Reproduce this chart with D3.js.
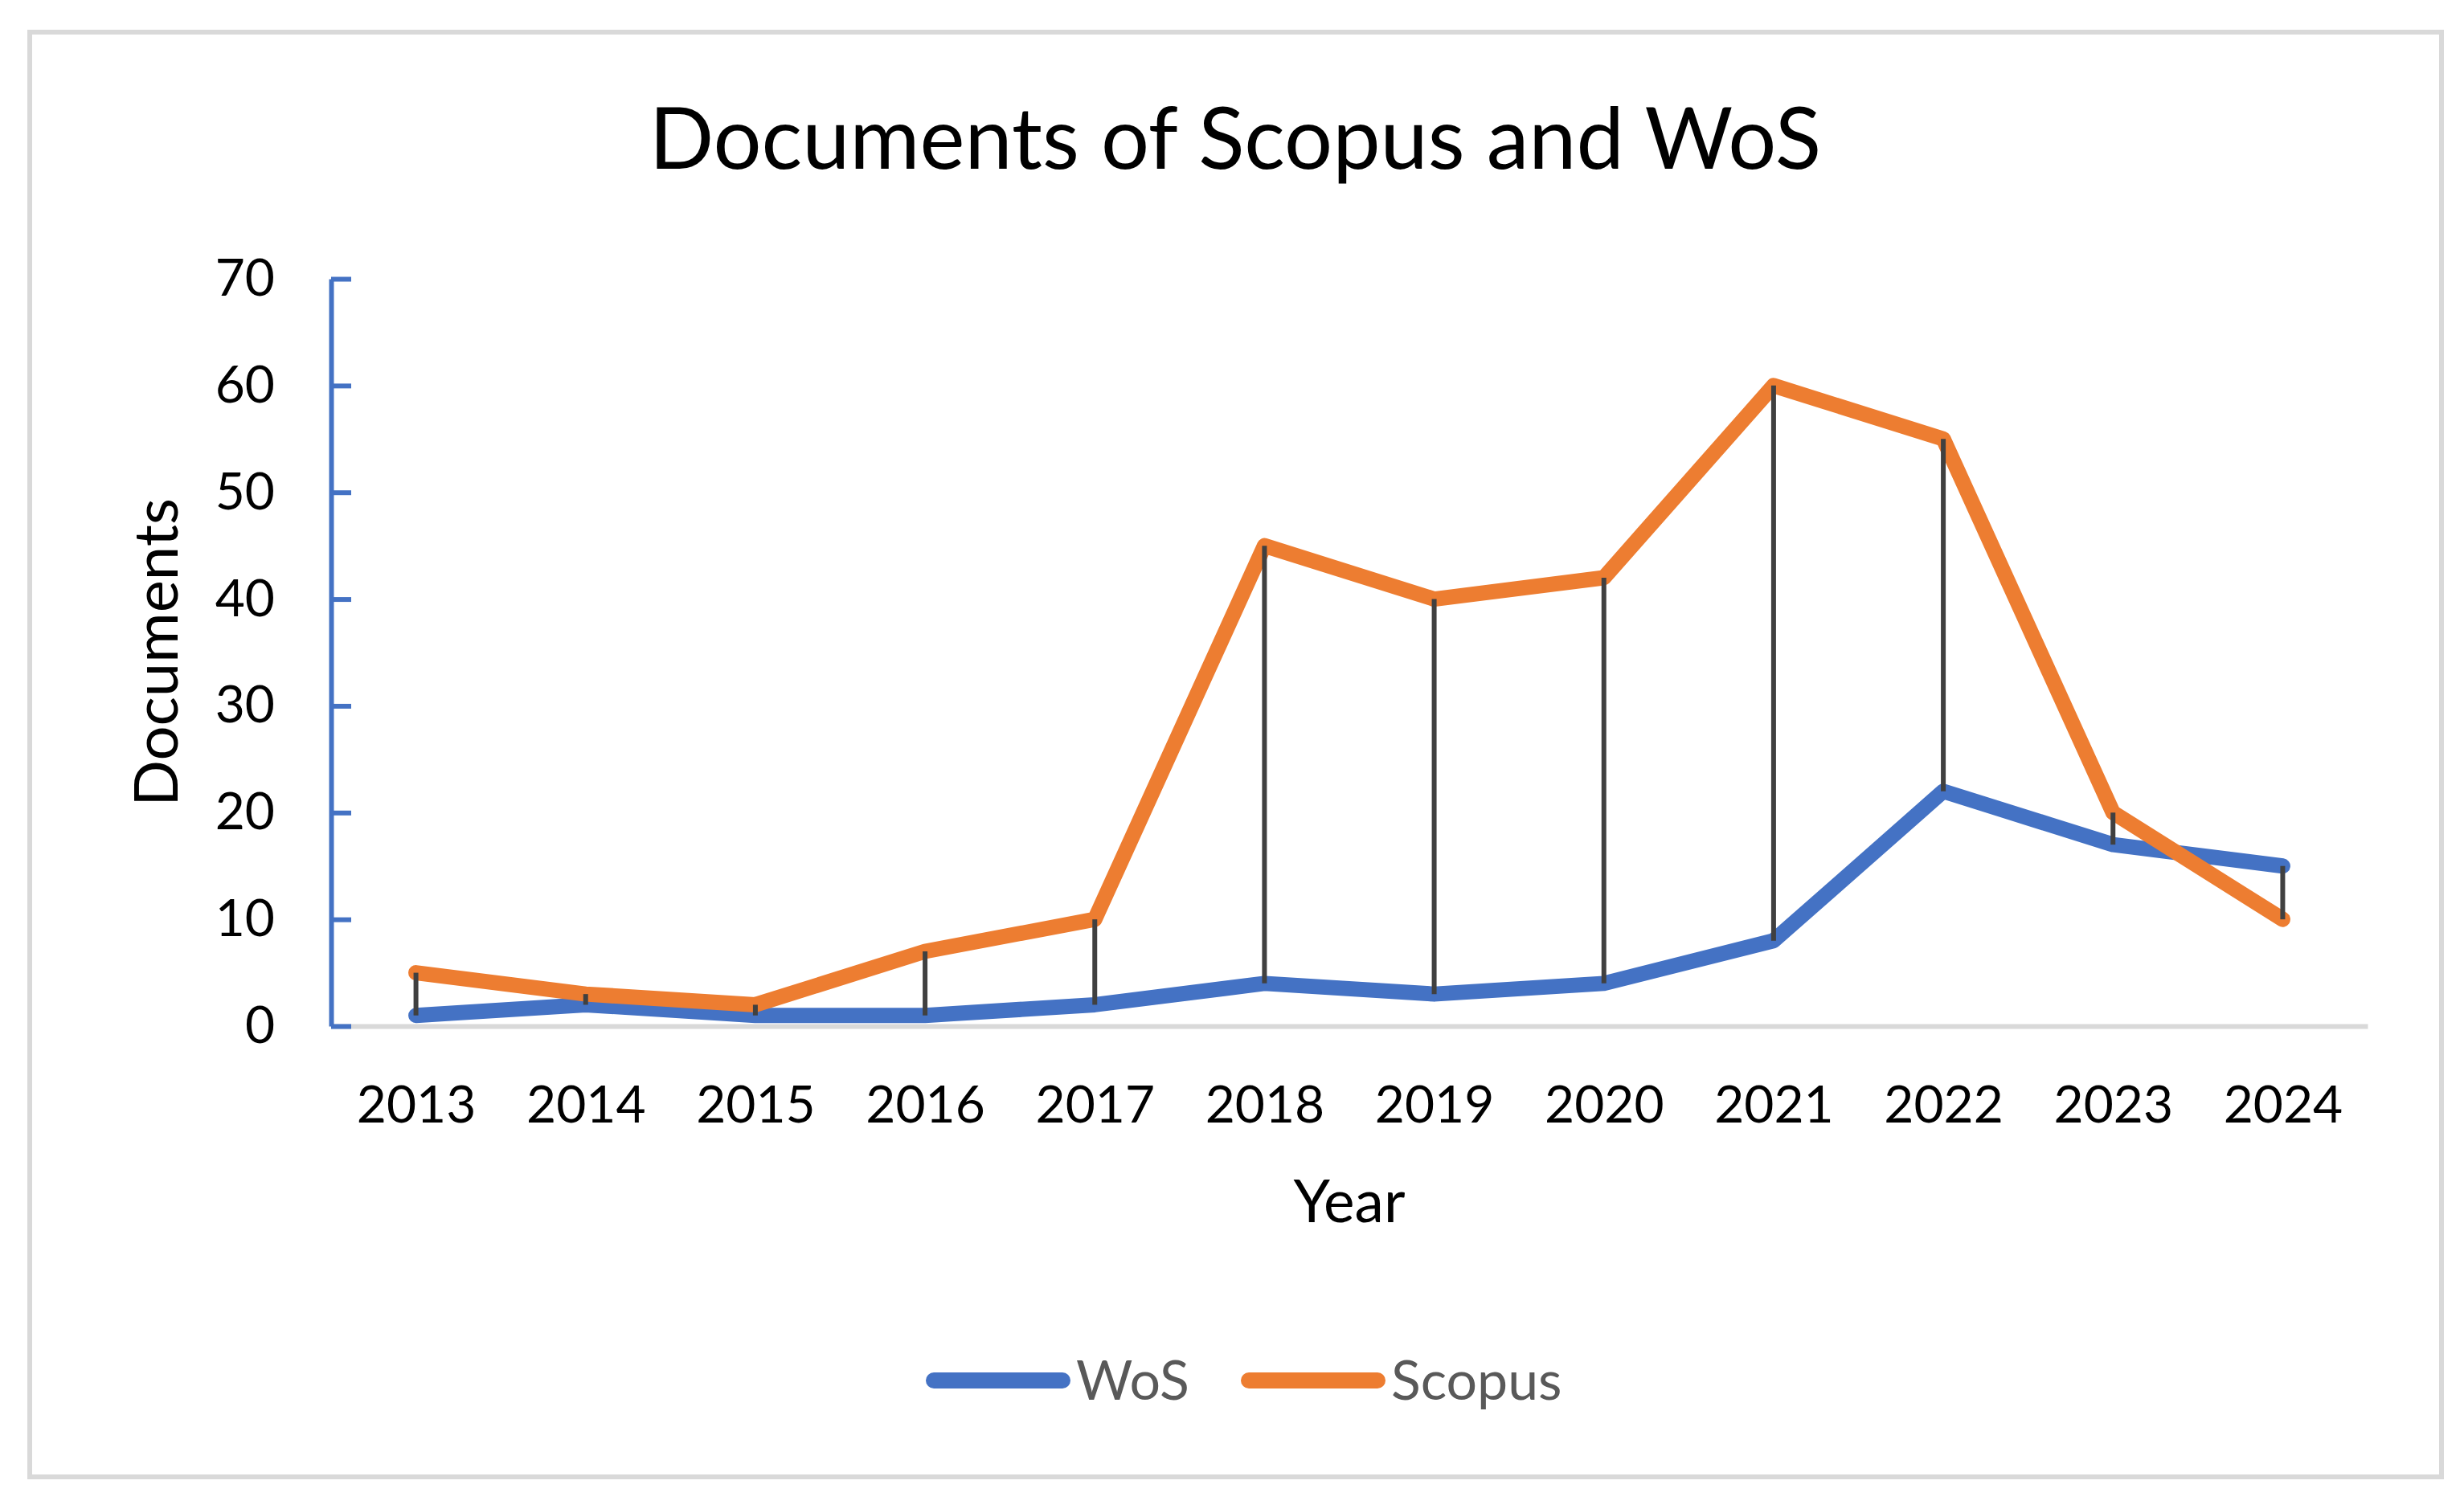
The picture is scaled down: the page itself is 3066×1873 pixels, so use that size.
<!DOCTYPE html>
<html lang="en">
<head>
<meta charset="UTF-8">
<title>Documents of Scopus and WoS</title>
<script src="https://d3js.org/d3.v7.min.js"></script>
<style>
  body { margin: 0; background: #ffffff; }
  svg { display: block; font-family: Lato, 'Open Sans', sans-serif; }
</style>
</head>
<body>
<svg id="chart"></svg>
<script>
// data
const years = ["2013", "2014", "2015", "2016", "2017", "2018", "2019", "2020", "2021", "2022", "2023", "2024"];
const wos = [1, 2, 1, 1, 2, 4, 3, 4, 8, 22, 17, 15];
const scopus = [5, 3, 2, 7, 10, 45, 40, 42, 60, 55, 20, 10];
const yTicks = [0, 10, 20, 30, 40, 50, 60, 70];
const seriesNames = ["WoS", "Scopus"];

const W = 3066, H = 1873;
const blue = "#4472c4", orange = "#ed7d31";

const svg = d3.select("#chart").attr("width", W).attr("height", H);

// outer chart border
svg.append("rect")
  .attr("x", 37).attr("y", 40)
  .attr("width", 3001).attr("height", 1798)
  .attr("fill", "#fff")
  .attr("stroke", "#d9d9d9").attr("stroke-width", 6);

const plot = { left: 412, right: 2946, top: 347, bottom: 1277 };

const x = d3.scalePoint().domain(years).range([plot.left, plot.right]).padding(0.5);
const y = d3.scaleLinear().domain([0, 70]).range([plot.bottom, plot.top]);

// x axis (gray line, labels only)
const xAxis = svg.append("g")
  .attr("transform", `translate(0,${plot.bottom})`)
  .call(d3.axisBottom(x).tickSize(0).tickPadding(75));
xAxis.select(".domain").attr("stroke", "#d9d9d9").attr("stroke-width", 6);
xAxis.selectAll("text").attr("font-size", 64).attr("fill", "#000").attr("font-family", "Lato");

// y axis (blue line, ticks pointing inward)
const yAxis = svg.append("g")
  .attr("transform", `translate(${plot.left},0)`)
  .call(d3.axisLeft(y).tickValues(yTicks).tickSizeInner(-25).tickSizeOuter(0).tickPadding(70));
yAxis.select(".domain").attr("stroke", blue).attr("stroke-width", 6);
yAxis.selectAll(".tick line").attr("stroke", blue).attr("stroke-width", 6);
yAxis.selectAll("text").attr("font-size", 64).attr("fill", "#000").attr("font-family", "Lato");

// series lines
const line = d3.line().x((d, i) => x(years[i])).y(d => y(d));
[[wos, blue], [scopus, orange]].forEach(([vals, c]) => {
  svg.append("path")
    .attr("d", line(vals))
    .attr("fill", "none")
    .attr("stroke", c)
    .attr("stroke-width", 19)
    .attr("stroke-linejoin", "round")
    .attr("stroke-linecap", "round");
});

// high-low lines between the two series
svg.append("g").selectAll("line")
  .data(years)
  .join("line")
  .attr("x1", d => x(d)).attr("x2", d => x(d))
  .attr("y1", (d, i) => y(wos[i]))
  .attr("y2", (d, i) => y(scopus[i]))
  .attr("stroke", "#404040")
  .attr("stroke-width", 6);

// title
svg.append("text")
  .attr("x", 1537).attr("y", 210)
  .attr("text-anchor", "middle")
  .attr("font-size", 106)
  .attr("fill", "#000")
  .text("Documents of Scopus and WoS");

// axis titles
svg.append("text")
  .attr("x", (plot.left + plot.right) / 2).attr("y", 1521)
  .attr("text-anchor", "middle")
  .attr("font-size", 73)
  .attr("fill", "#000")
  .text("Year");

svg.append("text")
  .attr("transform", `translate(221,${(plot.top + plot.bottom) / 2}) rotate(-90)`)
  .attr("text-anchor", "middle")
  .attr("font-size", 76)
  .attr("fill", "#000")
  .text("Documents");

// legend
const legendItems = [
  { name: seriesNames[0], color: blue, x: 1152 },
  { name: seriesNames[1], color: orange, x: 1544 }
];
const lg = svg.append("g").selectAll("g").data(legendItems).join("g")
  .attr("transform", d => `translate(${d.x},1718)`);
lg.append("line")
  .attr("x1", 10).attr("x2", 170)
  .attr("stroke", d => d.color)
  .attr("stroke-width", 20)
  .attr("stroke-linecap", "round");
lg.append("text")
  .attr("x", 187).attr("y", 24)
  .attr("font-size", 68)
  .attr("fill", "#595959")
  .text(d => d.name);
</script>
</body>
</html>
